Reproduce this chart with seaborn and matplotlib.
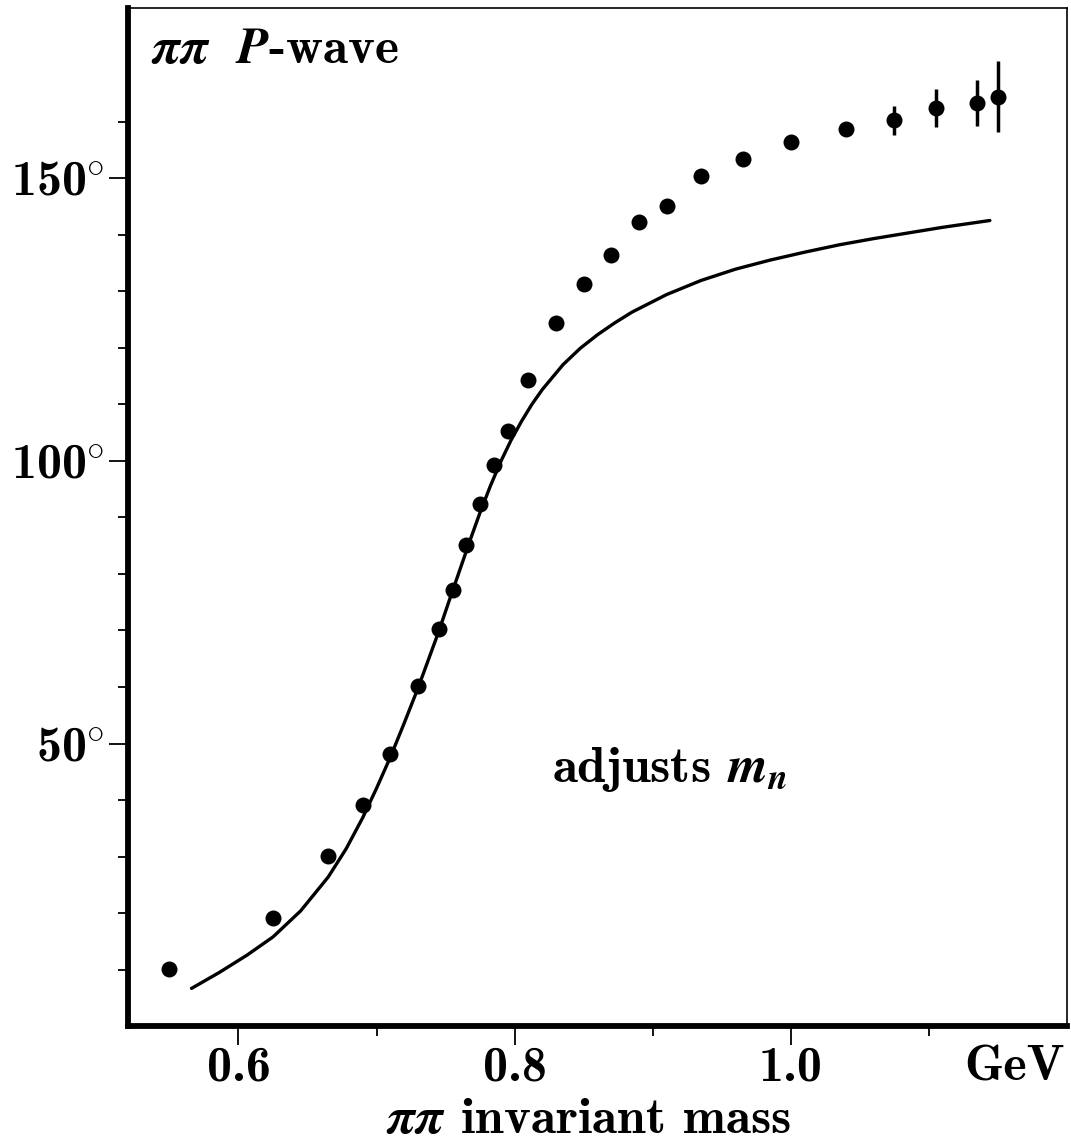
import matplotlib
matplotlib.use('Agg')
import seaborn as sns
from matplotlib import pyplot as plt

# pi-pi P-wave phase shift data (deg) vs invariant mass (GeV)
mass = [0.55, 0.625, 0.665, 0.69, 0.71, 0.73, 0.745, 0.755, 0.765, 0.775, 0.785,
        0.795, 0.81, 0.83, 0.85, 0.87, 0.89, 0.91, 0.935, 0.965, 1.0, 1.04,
        1.075, 1.105, 1.135, 1.15]
phase = [10.2, 19.2, 30.2, 39.2, 48.2, 60.2, 70.2, 77.1, 85.2, 92.3, 99.3,
         105.3, 114.3, 124.3, 131.2, 136.4, 142.2, 145.1, 150.4, 153.4, 156.3, 158.6,
         160.2, 162.4, 163.3, 164.4]
phase_err = [0.5, 0.5, 0.5, 0.6, 0.6, 0.8, 0.8, 1.0, 1.0, 1.0, 0.8,
             0.8, 0.6, 0.6, 0.6, 0.6, 0.6, 0.6, 0.6, 0.6, 0.8, 1.2,
             2.5, 3.4, 4.0, 6.3]

# model curve ("adjusts m_n")
curve_mass = [0.566, 0.586, 0.6063, 0.625, 0.645, 0.665, 0.678, 0.69, 0.70, 0.71,
              0.72, 0.73, 0.7375, 0.745, 0.7525, 0.76, 0.7675, 0.775, 0.7825, 0.79,
              0.7975, 0.805, 0.8125, 0.82, 0.835, 0.8475, 0.86, 0.8725, 0.885, 0.91,
              0.935, 0.96, 0.985, 1.01, 1.035, 1.06, 1.085, 1.11, 1.1441]
curve_phase = [6.7, 9.5, 12.6, 15.8, 20.4, 26.4, 31.4, 36.9, 42.1, 47.6,
               53.6, 59.8, 64.8, 69.8, 75.2, 80.5, 85.8, 90.9, 95.6, 99.9,
               103.7, 107.0, 110.0, 112.6, 117.0, 119.9, 122.3, 124.4, 126.3, 129.4,
               131.9, 133.9, 135.5, 136.9, 138.2, 139.3, 140.3, 141.3, 142.5]

x_ticks = [0.6, 0.8, 1.0, 1.162]
x_labels = ['0.6', '0.8', '1.0', 'GeV']
y_ticks = [50, 100, 150]
y_labels = [r'50$^{\circ}$', r'100$^{\circ}$', r'150$^{\circ}$']

sns.set_style('ticks')
plt.rcParams['font.family'] = ['cmb10', 'DejaVu Serif']
plt.rcParams['mathtext.fontset'] = 'custom'
plt.rcParams['mathtext.rm'] = 'cmb10'
plt.rcParams['mathtext.bf'] = 'cmb10'
plt.rcParams['mathtext.it'] = 'STIXGeneral:italic:bold'
plt.rcParams['axes.unicode_minus'] = False
plt.rcParams['text.color'] = 'black'
plt.rcParams['axes.edgecolor'] = 'black'

fs = 36
fig = plt.figure(figsize=(10.71, 11.44), dpi=100)
ax = fig.add_axes([0.1195, 0.1029, 0.8768, 0.8897])

ax.errorbar(mass, phase, yerr=phase_err, fmt='none', ecolor='black',
            elinewidth=2.5, capsize=0, zorder=2)
sns.scatterplot(x=mass, y=phase, color='black', s=11.5 ** 2, linewidth=0,
                ax=ax, zorder=3)
sns.lineplot(x=curve_mass, y=curve_phase, color='black', linewidth=2.4, ax=ax)

ax.set_xlim(0.52, 1.2)
ax.set_ylim(0, 180)

ax.set_xticks(x_ticks)
ax.set_xticklabels(x_labels)
ax.set_xticks([0.7, 0.9, 1.1], minor=True)
ax.xaxis.get_major_ticks()[3].tick1line.set_visible(False)
ax.set_yticks(y_ticks)
ax.set_yticklabels(y_labels)
ax.set_yticks([10, 20, 30, 40, 60, 70, 80, 90, 110, 120, 130, 140, 160], minor=True)

ax.tick_params(which='major', direction='out', length=14, width=1.3, labelsize=fs,
               colors='black')
ax.tick_params(which='minor', direction='out', length=7, width=1.3, colors='black')
ax.tick_params(axis='x', which='major', pad=0)
ax.tick_params(axis='y', which='major', pad=3)

for side in ['left', 'bottom']:
    ax.spines[side].set_linewidth(4.2)
for side in ['top', 'right']:
    ax.spines[side].set_visible(True)
    ax.spines[side].set_linewidth(1.2)

ax.text(0.0244, 0.946, r'$\pi\pi\;$ $P$-wave', transform=ax.transAxes,
        fontsize=37, ha='left', va='baseline')
ax.text(0.827, 43.2, r'adjusts $m_n$', fontsize=37, ha='left', va='baseline')
fig.text(588 / 1071, 0.0096, r'$\pi\pi$ invariant mass', fontsize=37,
         ha='center', va='baseline')

fig.savefig('out.png', dpi=100)
